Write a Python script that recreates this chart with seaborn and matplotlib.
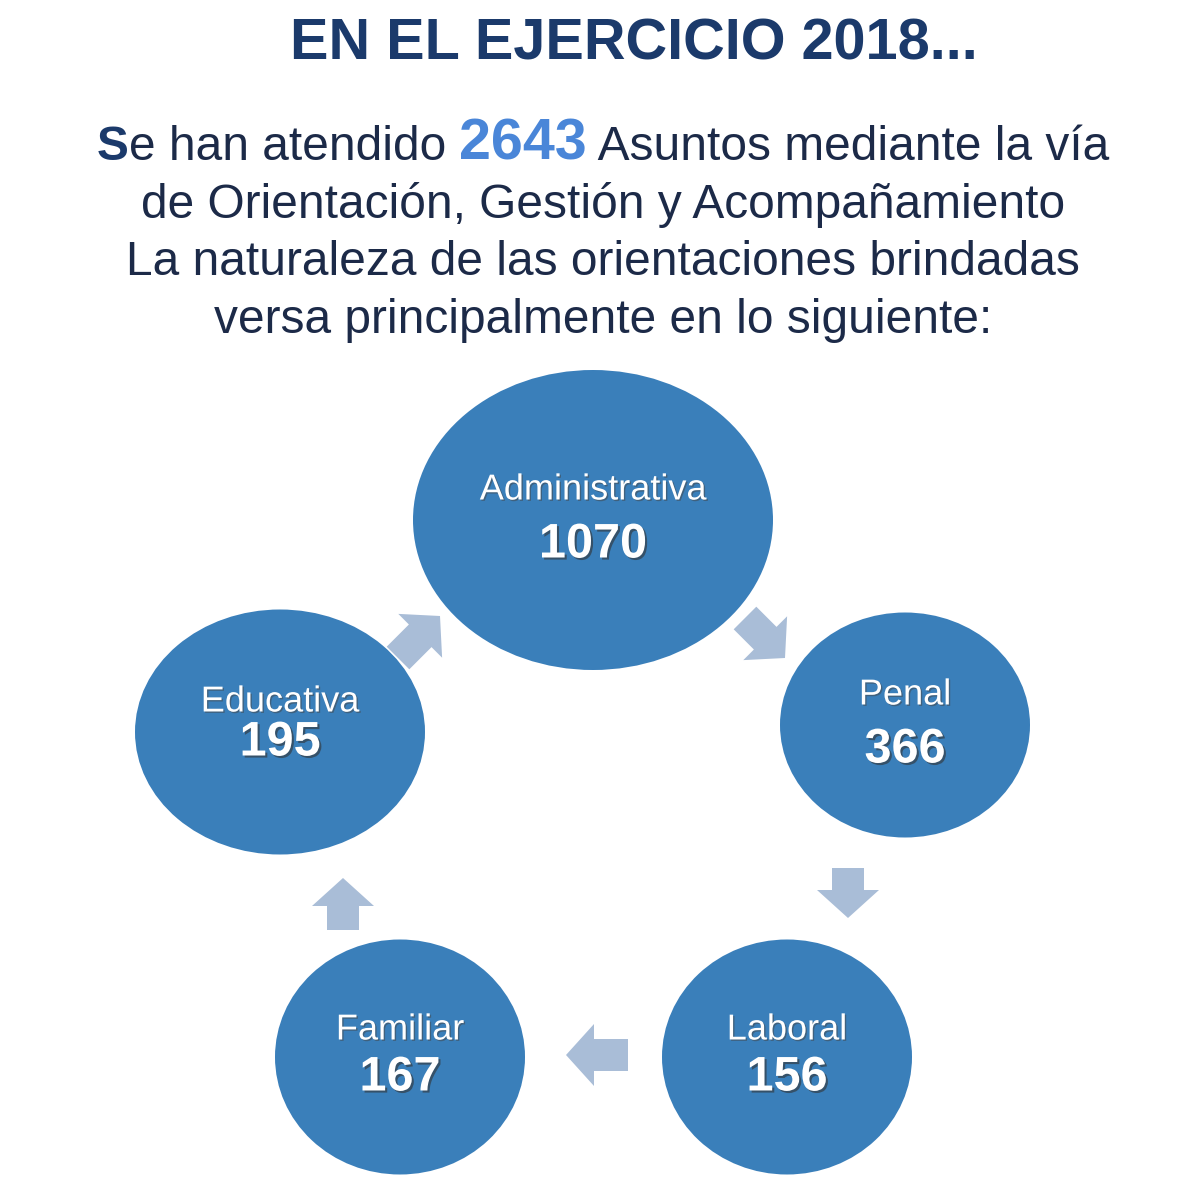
import matplotlib
matplotlib.use("Agg")
import matplotlib.pyplot as plt
import seaborn as sns
from matplotlib.patches import Ellipse, FancyArrow
import matplotlib.patheffects as pe

sns.set_theme(style="white")
plt.rcParams['font.family'] = ['Liberation Sans', 'DejaVu Sans']

title = "EN EL EJERCICIO 2018..."
total = "2643"
categories = ["Administrativa", "Penal", "Laboral", "Familiar", "Educativa"]
values = [1070, 366, 156, 167, 195]

# layout (pixels): center x, center y, width, height
centers = [(593, 520), (905, 725), (787, 1057), (400, 1057), (280, 732)]
sizes = [(360, 300), (250, 225), (250, 235), (250, 235), (290, 245)]
label_y = [490, 695, 1030, 1030, 702]
value_y = [545, 750, 1078, 1078, 743]
# arrows: start x, y, dx, dy
arrows = [(745, 618, 40, 40), (848, 868, 0, 50), (628, 1055, -62, 0), (343, 930, 0, -52), (398, 658, 42, -42)]

NAVY = "#1b3a6b"
TEXT = "#1c2a48"
CIRC = "#3a7fba"
ARROW = "#a9bdd7"

fig = plt.figure(figsize=(12, 12), dpi=100)
ax = fig.add_axes([0, 0, 1, 1])
ax.set_xlim(0, 1200)
ax.set_ylim(1200, 0)
ax.axis("off")

ax.text(634, 45, title, ha="center", va="center", fontsize=41.5, fontweight="bold", color=NAVY)

fig.canvas.draw()
r = fig.canvas.get_renderer()
FS = 34.5
pieces = [("S", dict(fontweight="bold", color=NAVY, fontsize=FS)),
          ("e han atendido ", dict(color=TEXT, fontsize=FS)),
          (total, dict(fontweight="bold", color="#4a86d8", fontsize=FS * 1.2)),
          (" Asuntos mediante la vía", dict(color=TEXT, fontsize=FS))]
widths = []
for s, kw in pieces:
    t = ax.text(0, 0, s, **kw)
    widths.append(t.get_window_extent(renderer=r).width)
    t.remove()
x = 603 - sum(widths) / 2
for (s, kw), w in zip(pieces, widths):
    ax.text(x, 160, s, ha="left", va="baseline", **kw)
    x += w
for y, s in [(218, "de Orientación, Gestión y Acompañamiento"),
             (275, "La naturaleza de las orientaciones brindadas"),
             (333, "versa principalmente en lo siguiente:")]:
    ax.text(603, y, s, ha="center", va="baseline", fontsize=FS, color=TEXT)

for (cx, cy), (w, h), cat, v, ly, vy in zip(centers, sizes, categories, values, label_y, value_y):
    ax.add_patch(Ellipse((cx, cy), w, h, facecolor=CIRC, edgecolor="none"))
    ax.text(cx, ly, cat, ha="center", va="center", color="white", fontsize=26,
            path_effects=[pe.withSimplePatchShadow(offset=(1, -1), shadow_rgbFace="#444444", alpha=0.5)])
    ax.text(cx, vy, str(v), ha="center", va="center", color="white", fontsize=35, fontweight="bold",
            path_effects=[pe.withSimplePatchShadow(offset=(1.5, -1.5), shadow_rgbFace="#333333", alpha=0.6)])

for x0, y0, dx, dy in arrows:
    ax.add_patch(FancyArrow(x0, y0, dx, dy, width=32, head_width=62, head_length=28,
                            length_includes_head=True, facecolor=ARROW, edgecolor="none"))

fig.savefig("out.png", dpi=100, facecolor="white")
